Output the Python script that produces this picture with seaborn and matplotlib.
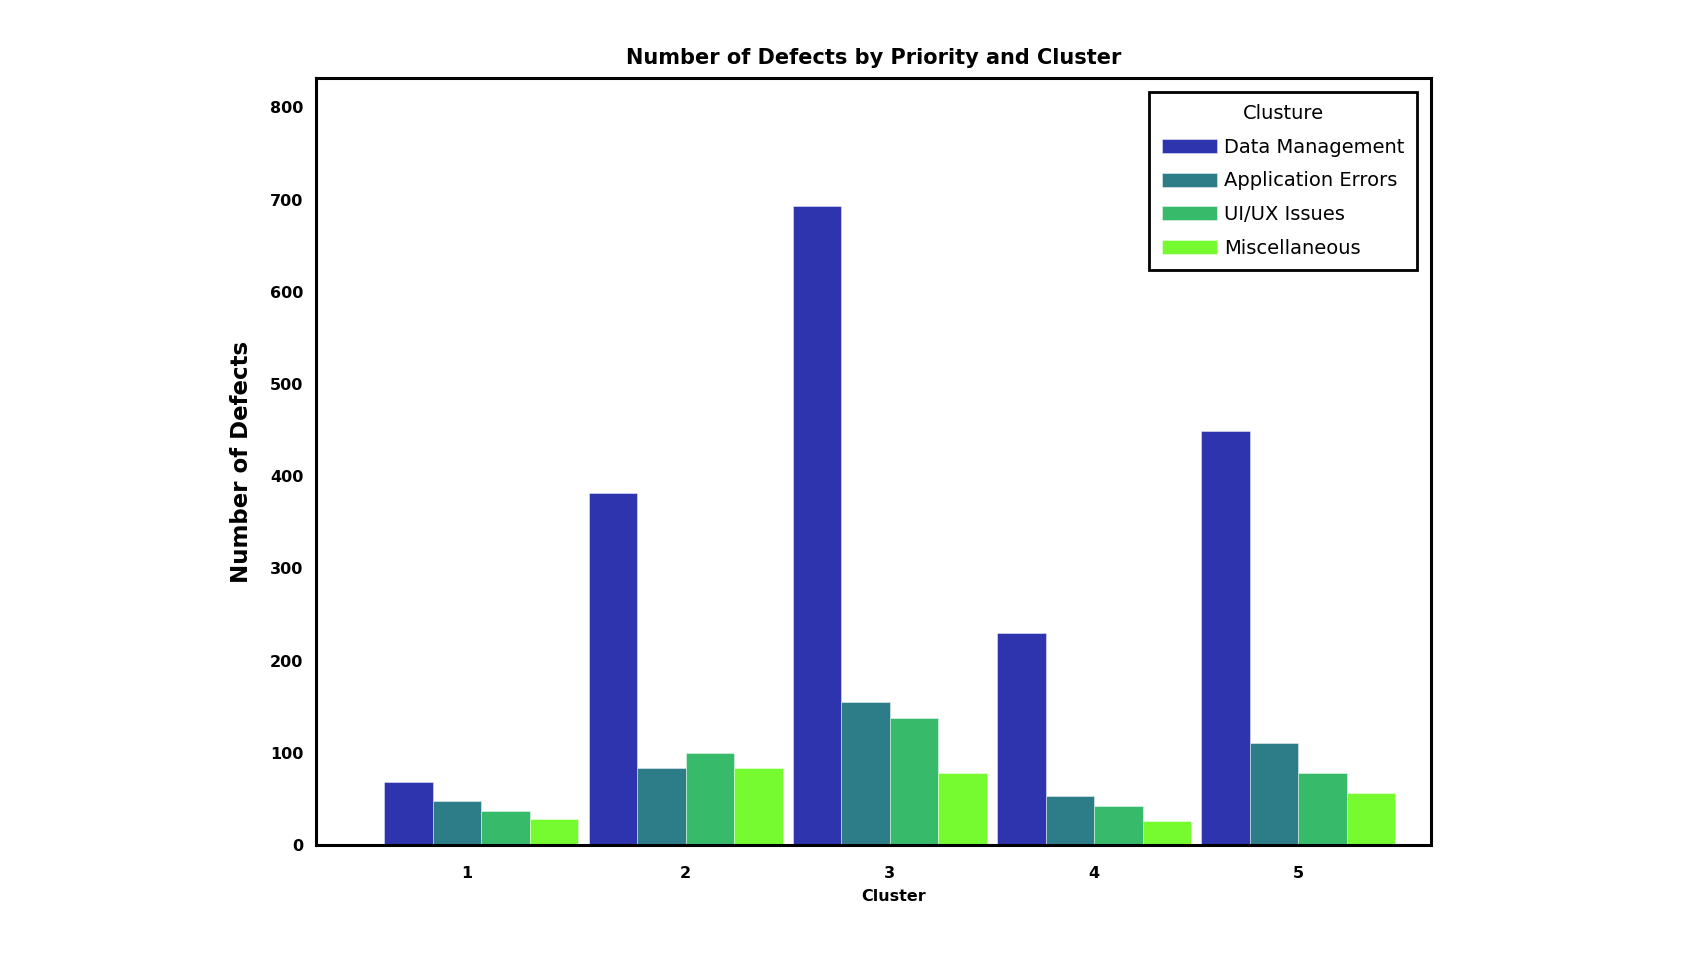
import seaborn as sns
import matplotlib.pyplot as plt
import pandas as pd

# data
clusters = ['1', '2', '3', '4', '5']
categories = ['Data Management', 'Application Errors', 'UI/UX Issues', 'Miscellaneous']
data_management = [68, 382, 693, 230, 449]
application_errors = [48, 84, 155, 53, 111]
ui_ux_issues = [37, 100, 138, 42, 78]
miscellaneous = [28, 84, 78, 26, 56]
colors = ['#2E34AE', '#2C7D88', '#37BA6A', '#76FA30']

# long form table for seaborn
rows = []
for cat, vals in zip(categories, [data_management, application_errors, ui_ux_issues, miscellaneous]):
    for c, v in zip(clusters, vals):
        rows.append({'Cluster': c, 'Category': cat, 'Defects': v})
df = pd.DataFrame(rows)

sns.set_style('white')
plt.rcParams['font.family'] = ['DejaVu Sans']
plt.rcParams['text.color'] = 'black'
plt.rcParams['axes.labelcolor'] = 'black'
plt.rcParams['xtick.color'] = 'black'
plt.rcParams['ytick.color'] = 'black'

fig = plt.figure(figsize=(16.92, 9.6), dpi=100)
ax = fig.add_axes([0.1868, 0.1198, 0.6589, 0.79895])

sns.barplot(data=df, x='Cluster', y='Defects', hue='Category', order=clusters,
            hue_order=categories, palette=dict(zip(categories, colors)),
            width=0.95, gap=0, edgecolor=(1, 1, 1, 0.5), linewidth=0.6,
            saturation=1, ax=ax)

ax.set_xlim(-0.81, 4.65)
ax.set_ylim(0, 832)
ax.set_yticks(range(0, 801, 100))
# tick for cluster 1 sits a little left of its group in the reference
ax.set_xticks([-0.07, 1, 2, 3, 4])
ax.set_xticklabels(clusters)

for s in ax.spines.values():
    s.set_visible(True)
    s.set_linewidth(2.2)
    s.set_color('black')

ax.tick_params(axis='y', direction='out', length=6, width=2, labelsize=11.5, pad=3)
ax.tick_params(axis='x', direction='out', length=9, width=2, labelsize=11.5, pad=6)
for lab in ax.get_xticklabels() + ax.get_yticklabels():
    lab.set_fontweight('bold')

ax.set_title('Number of Defects by Priority and Cluster', fontsize=15, fontweight='bold', pad=10)
ax.set_xlabel('Cluster', fontsize=11.5, fontweight='bold')
ax.set_ylabel('Number of Defects', fontsize=16.5, fontweight='bold')
ax.xaxis.set_label_coords(0.518, -0.058)
ax.yaxis.set_label_coords(-0.057, 0.5)

leg = ax.legend(title='Clusture', loc='upper right', fontsize=14, title_fontsize=14,
                frameon=True, fancybox=False, edgecolor='black', framealpha=1,
                handlelength=2.8, handleheight=0.75, borderaxespad=0.7,
                labelspacing=0.75, borderpad=0.65, handletextpad=0.4)
leg.get_frame().set_linewidth(2)

fig.savefig('out.png', dpi=100)
